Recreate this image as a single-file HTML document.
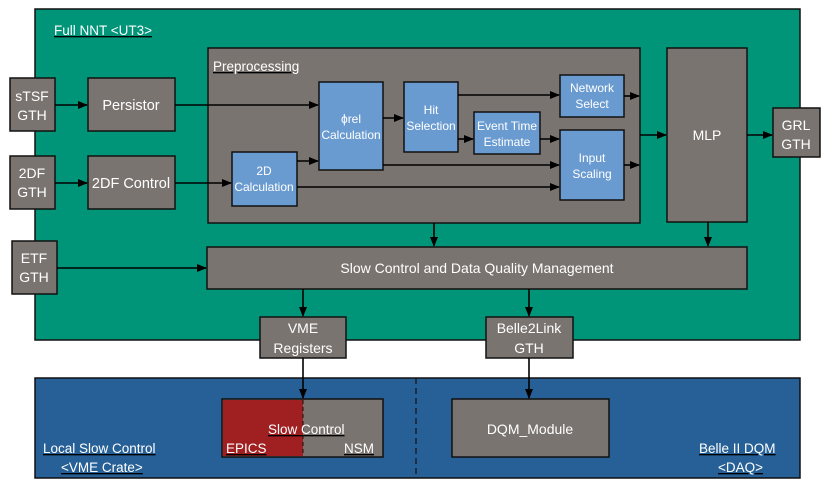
<!DOCTYPE html>
<html><head><meta charset="utf-8"><style>
html,body{margin:0;padding:0;background:#fff}
svg{display:block}
text{font-family:"Liberation Sans",sans-serif;fill:#fff}
</style></head><body>
<svg width="831" height="489" viewBox="0 0 831 489" xmlns="http://www.w3.org/2000/svg">
<defs><marker id="a" markerWidth="10" markerHeight="8" refX="9" refY="4" orient="auto" markerUnits="userSpaceOnUse"><path d="M0,0 L10,4 L0,8z" fill="#000"/></marker></defs>
<g stroke="#111" stroke-width="1.5">
<rect x="35" y="9" width="765" height="331" fill="#009479"/>
<rect x="35" y="378" width="765" height="100" fill="#266096"/>
<rect x="208" y="48" width="432" height="175" fill="#7a7470"/>
<rect x="10" y="78" width="45" height="53" fill="#7a7470"/>
<rect x="88" y="78" width="87" height="53" fill="#7a7470"/>
<rect x="10" y="156" width="45" height="53" fill="#7a7470"/>
<rect x="88" y="156" width="87" height="53" fill="#7a7470"/>
<rect x="12" y="241" width="45" height="53" fill="#7a7470"/>
<rect x="207" y="247" width="540" height="42" fill="#7a7470"/>
<rect x="667" y="48" width="80" height="174" fill="#7a7470"/>
<rect x="773" y="108" width="47" height="49" fill="#7a7470"/>
<rect x="260" y="317" width="86" height="41" fill="#7a7470"/>
<rect x="486" y="317" width="87" height="41" fill="#7a7470"/>
<rect x="232" y="152" width="65" height="54" fill="#6a9bd0"/>
<rect x="319" y="82" width="64" height="88" fill="#6a9bd0"/>
<rect x="404" y="82" width="54" height="70" fill="#6a9bd0"/>
<rect x="474" y="112" width="66" height="42" fill="#6a9bd0"/>
<rect x="560" y="75" width="64" height="42" fill="#6a9bd0"/>
<rect x="560" y="130" width="64" height="70" fill="#6a9bd0"/>
<rect x="222" y="399" width="161" height="58" fill="#7a7470"/>
<rect x="452" y="399" width="157" height="58" fill="#7a7470"/>
</g>
<rect x="223" y="400" width="80" height="56" fill="#a02022"/>
<line x1="303" y1="400" x2="303" y2="456" stroke="#111" stroke-dasharray="4,3"/>
<line x1="416" y1="378" x2="416" y2="478" stroke="#111" stroke-width="1.2" stroke-dasharray="6,4"/>
<g stroke="#000" stroke-width="1.6" fill="none" marker-end="url(#a)">
<path d="M55,105 H87"/><path d="M175,105 H318"/>
<path d="M55,183 H87"/><path d="M175,183 H231"/>
<path d="M57,268 H206"/>
<path d="M297,161 H318"/><path d="M297,187 H559"/>
<path d="M383,118 H403"/><path d="M383,165 H559"/>
<path d="M458,95 H559"/><path d="M458,139 H473"/><path d="M540,139 H559"/>
<path d="M624,96 H639"/><path d="M624,165 H639"/>
<path d="M640,135 H666"/><path d="M747,135 H772"/>
<path d="M434,223 V246"/><path d="M708,222 V246"/>
<path d="M303,289 V316"/><path d="M529,289 V316"/>
<path d="M303,358 V398"/><path d="M529,358 V398"/>
</g>
<g font-size="14" text-anchor="middle">
<text x="32" y="101">sTSF</text><text x="32" y="120">GTH</text>
<text x="131" y="110" font-size="14.5">Persistor</text>
<text x="32" y="178">2DF</text><text x="32" y="197">GTH</text>
<text x="131" y="188" font-size="14.5">2DF Control</text>
<text x="34" y="263">ETF</text><text x="34" y="282">GTH</text>
<text x="477" y="273">Slow Control and Data Quality Management</text>
<text x="707" y="140">MLP</text>
<text x="796" y="130">GRL</text><text x="796" y="149">GTH</text>
<text x="303" y="333">VME</text><text x="303" y="353">Registers</text>
<text x="529" y="333">Belle2Link</text><text x="529" y="353">GTH</text>
<g font-size="12">
<text x="264" y="175">2D</text><text x="264" y="191">Calculation</text>
<text x="351" y="123">ϕrel</text><text x="351" y="139">Calculation</text>
<text x="431" y="114">Hit</text><text x="431" y="130">Selection</text>
<text x="507" y="130">Event Time</text><text x="507" y="146">Estimate</text>
<text x="592" y="92">Network</text><text x="592" y="108">Select</text>
<text x="592" y="162">Input</text><text x="592" y="178">Scaling</text>
</g>
<text x="530" y="434">DQM_Module</text>
</g>
<g font-size="13.5" text-decoration="underline">
<text x="54" y="35">Full NNT &lt;UT3&gt;</text>
<text x="213" y="71">Preprocessing</text>
<text x="268" y="434">Slow  Control</text>
<text x="226" y="453">EPICS</text>
<text x="344" y="453">NSM</text>
<text x="43" y="453">Local Slow Control </text>
<text x="61" y="472">&lt;VME Crate&gt;</text>
<text x="699" y="453">Belle II DQM</text>
<text x="718" y="472">&lt;DAQ&gt;</text>
</g>
</svg>
</body></html>
